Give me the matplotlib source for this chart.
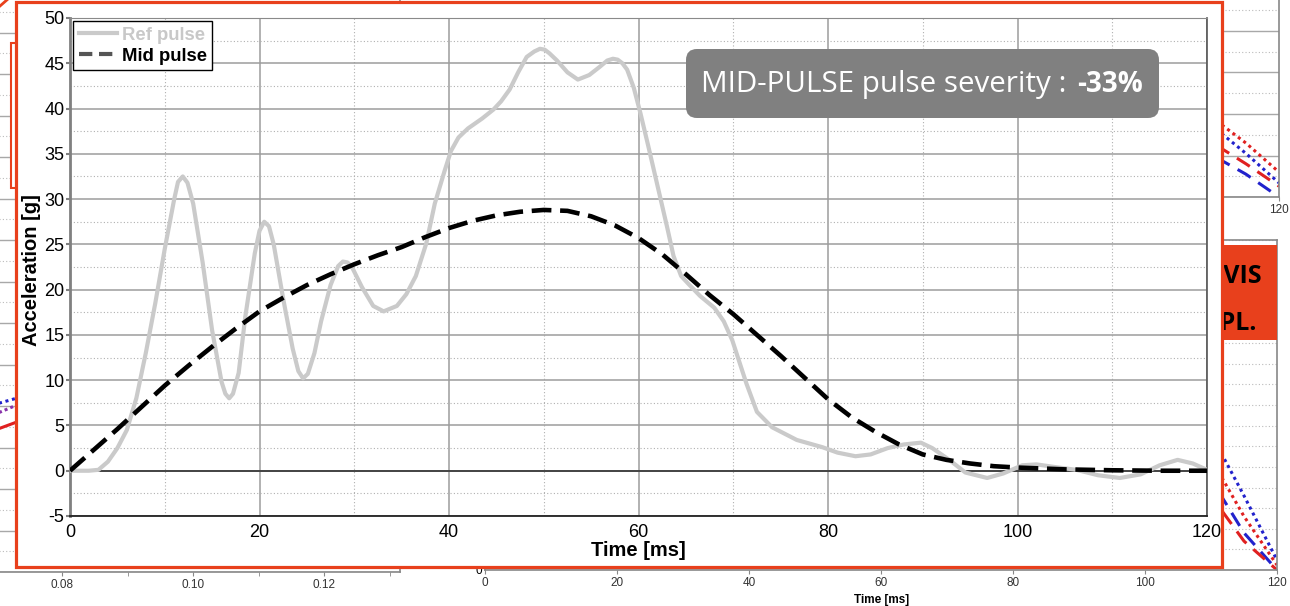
import matplotlib
matplotlib.use("Agg")
import matplotlib.pyplot as plt
from matplotlib.lines import Line2D
from matplotlib.patches import Rectangle, FancyBboxPatch
from matplotlib.ticker import MultipleLocator, FixedLocator

plt.rcParams["axes.unicode_minus"] = False

W, H, DPI = 1290, 606, 100

# ---------------- main chart data ----------------
ref_t = [0, 1, 2, 3, 4, 5, 6, 7, 8, 9, 10, 11, 11.4, 11.9, 12.4, 13, 14, 15, 16,
         16.4, 16.8, 17.2, 17.8, 18.5, 19.5, 20.0, 20.5, 21.0, 21.5, 22.5, 23.5,
         24.1, 24.6, 25.1, 25.8, 26.5, 27.5, 28.3, 28.8, 29.3, 29.8, 30.8, 32,
         33.1, 34.5, 35.5, 36.5, 37.6, 38.5, 39.5, 40.2, 41, 42, 43.5, 44.7, 45.5,
         46.4, 47.3, 48.2, 49.0, 49.6, 50.1, 50.6, 51.4, 52.5, 53.6, 54.8, 55.9,
         56.7, 57.3, 57.8, 58.3, 58.8, 59.5, 60.2, 61, 62, 63, 63.7, 64.5, 65.3,
         66.5, 68, 69, 69.9, 71.4, 72.5, 74.1, 76.7, 79.4, 81, 82.9, 84.5, 86.3,
         88, 89.8, 91, 92.8, 94.5, 96.8, 98.5, 100.5, 102, 104, 106.2, 108.5,
         110.8, 113, 115, 116.9, 118.5, 120]
ref_g = [0, 0, 0, 0.1, 1.0, 2.5, 4.5, 8.0, 13.0, 18.5, 24.5, 30.0, 31.9, 32.5,
         31.8, 29.5, 23.0, 15.5, 9.8, 8.5, 8.0, 8.5, 10.8, 17.0, 24.0, 26.5, 27.5,
         27.0, 25.0, 19.0, 13.5, 11.0, 10.2, 10.7, 13.0, 16.5, 20.5, 22.6, 23.1,
         23.0, 22.4, 20.3, 18.2, 17.6, 18.2, 19.5, 21.5, 25.1, 29.5, 33.0, 35.3,
         36.8, 37.8, 38.9, 39.9, 40.8, 42.1, 44.0, 45.7, 46.3, 46.6, 46.5, 46.1,
         45.3, 44.0, 43.2, 43.7, 44.6, 45.3, 45.5, 45.4, 45.0, 44.3, 42.3, 39.5,
         36.0, 31.5, 27.0, 23.7, 21.5, 20.6, 19.3, 18.0, 16.5, 14.4, 9.6, 6.5, 4.8,
         3.4, 2.6, 2.0, 1.6, 1.8, 2.5, 2.9, 3.1, 2.5, 1.2, -0.2, -0.8, -0.3, 0.6,
         0.7, 0.4, 0.1, -0.5, -0.8, -0.4, 0.6, 1.2, 0.8, 0.1]

mid_t = [0, 2.5, 5, 7.5, 10, 12.5, 15, 17.5, 20, 22.5, 25, 27.5, 30, 32.5, 35,
         37.5, 40, 42.5, 45, 47.5, 50, 52.5, 55, 57.5, 60, 62.5, 65, 67.5, 70,
         72.5, 75, 77.5, 80, 82.5, 85, 87.5, 90, 92.5, 95, 97.5, 100, 105, 110,
         115, 120]
mid_g = [0, 2.3, 4.6, 7.0, 9.4, 11.6, 13.7, 15.7, 17.6, 19.1, 20.5, 21.7, 22.8,
         23.8, 24.7, 25.8, 26.8, 27.6, 28.2, 28.6, 28.8, 28.7, 28.1, 27.1, 25.7,
         23.9, 21.7, 19.4, 17.3, 15.0, 12.7, 10.3, 7.9, 5.9, 4.3, 2.9, 1.8,
         1.2, 0.8, 0.5, 0.35, 0.15, 0.05, 0.0, 0.0]

series_names = ["Ref pulse", "Mid pulse"]
x_ticks = [0, 20, 40, 60, 80, 100, 120]
y_ticks = [-5, 0, 5, 10, 15, 20, 25, 30, 35, 40, 45, 50]

severity_label = "MID-PULSE pulse severity :"
severity_value = "-33%"

# ---------------- side charts (partly covered) ----------------
left_x = [0.060, 0.066, 0.072, 0.078]
left_blue_dot = [3.60, 3.87, 4.14, 4.41]
left_purple_dot = [3.15, 3.55, 3.95, 4.35]
left_red = [2.85, 3.20, 3.55, 3.90]
left_ticks = [0.08, 0.10, 0.12]

side_t = [100, 105, 110, 115, 120]
upper_red_dot = [24.0, 21.5, 19.0, 13.0, 6.0]
upper_blue_dot = [22.0, 19.5, 17.0, 10.5, 3.4]
upper_red_dash = [18.0, 15.5, 13.0, 8.0, 2.6]
upper_blue_dash = [15.0, 12.5, 10.0, 5.5, 0.0]

lower_blue_dot = [23.0, 20.5, 16.5, 9.0, 1.2]
lower_red_dot = [20.0, 17.5, 13.5, 6.5, 0.6]
lower_blue_dash = [17.0, 14.5, 11.0, 4.5, 0.0]
lower_red_dash = [14.0, 12.0, 9.0, 3.5, 0.0]
side_ticks = [0, 20, 40, 60, 80, 100, 120]

panel_title = ["PELVIS", "DISPL."]

RED = "#e8401c"
BLUE = "#2222cc"
SRED = "#e02020"

fig = plt.figure(figsize=(W / DPI, H / DPI), dpi=DPI)
fig.patch.set_facecolor("white")


def px_axes(x0, y0, x1, y1, z=0):
    a = fig.add_axes([x0 / W, 1 - y1 / H, (x1 - x0) / W, (y1 - y0) / H])
    a.set_zorder(z)
    return a


def overlay(z):
    a = px_axes(0, 0, W, H, z)
    a.set_xlim(0, W)
    a.set_ylim(H, 0)
    a.set_axis_off()
    a.patch.set_visible(False)
    return a


def style_side(a, major, minor):
    a.yaxis.set_major_locator(MultipleLocator(major))
    a.yaxis.set_minor_locator(MultipleLocator(minor))
    a.grid(True, which="major", axis="y", color="#a8a8a8", lw=1.0)
    a.grid(True, which="minor", axis="y", color="#bbbbbb", lw=0.8, ls=(0, (1, 2)))
    for s in a.spines.values():
        s.set_color("#888888")
        s.set_linewidth(1.2)
    a.tick_params(axis="y", left=False, labelleft=False)
    a.tick_params(axis="x", length=3, color="#888888", labelsize=8.5,
                  labelcolor="#333333", pad=2)


# left chart
axl = px_axes(-200, -10, 400, 572, 0)
axl.set_xlim(0.04, 0.04 + 600 * 0.02 / 131)
axl.set_ylim(0, 582 / 41.5)
style_side(axl, 1, 0.5)
axl.xaxis.set_major_locator(FixedLocator(left_ticks))
axl.xaxis.set_minor_locator(MultipleLocator(0.01))
axl.tick_params(axis="x", which="minor", length=3, color="#888888")
axl.set_xticklabels([f"{v:.2f}" for v in left_ticks])
axl.spines["left"].set_visible(False)
axl.plot(left_x, left_red, color=SRED, lw=2.2)
axl.plot(left_x, left_purple_dot, color="#8833aa", lw=2.2, ls=(0, (1, 1)))
axl.plot(left_x, left_blue_dot, color=BLUE, lw=2.2, ls=(0, (1, 1.2)))

# upper right chart
axu = px_axes(485, -10, 1279, 197, 0)
axu.set_xlim(0, 120)
axu.set_ylim(0, 207 / 4.15)
style_side(axu, 10, 5)
axu.set_xticks(side_ticks)
axu.spines["left"].set_visible(False)
axu.spines["top"].set_visible(False)
axu.plot(side_t, upper_red_dot, color=SRED, lw=2.2, ls=(0, (1, 1.2)))
axu.plot(side_t, upper_blue_dot, color=BLUE, lw=2.2, ls=(0, (1, 1.2)))
axu.plot(side_t, upper_red_dash, color=SRED, lw=2.2, ls=(0, (5, 3)))
axu.plot(side_t, upper_blue_dash, color=BLUE, lw=2.2, ls=(0, (5, 3)))

# lower right chart
axb = px_axes(485, 240, 1277, 570, 0)
axb.set_xlim(0, 120)
axb.set_ylim(0, 40)
style_side(axb, 5, 2.5)
axb.set_xticks(side_ticks)
axb.tick_params(axis="y", left=True, labelleft=True, labelsize=8.5, length=0, pad=2)
axb.yaxis.set_major_locator(FixedLocator([0]))
axb.set_xlabel("Time [ms]", fontsize=8.5, fontweight="bold", family="Liberation Sans")
axb.xaxis.set_label_coords((882 - 485) / 792, -(594 - 570) / 330)
axb.plot(side_t, lower_blue_dot, color=BLUE, lw=2.2, ls=(0, (1, 1.2)))
axb.plot(side_t, lower_red_dot, color=SRED, lw=2.2, ls=(0, (1, 1.2)))
axb.plot(side_t, lower_blue_dash, color=BLUE, lw=2.2, ls=(0, (5, 3)))
axb.plot(side_t, lower_red_dash, color=SRED, lw=2.2, ls=(0, (5, 3)))
for a in (axl, axu, axb):
    for lab in a.get_xticklabels() + a.get_yticklabels():
        lab.set_family("Liberation Sans")

# orange tag of the lower right chart (behind the panel)
tag = overlay(0.5)
tag.add_patch(Rectangle((1110, 245), 167, 95, facecolor=RED, edgecolor="none"))
tag.text(1262, 283, panel_title[0], ha="right", va="baseline", fontsize=18,
         fontweight="bold", family="Open Sans", color="black")
tag.text(1257, 330, panel_title[1], ha="right", va="baseline", fontsize=18,
         fontweight="bold", family="Open Sans", color="black")
tag.plot([0, 8], [6, -1], color=RED, lw=2)
tag.add_patch(Rectangle((10.5, 43), 10, 145, facecolor="white", edgecolor=RED, lw=1.5))

# white panel with red frame
deco = overlay(1)
deco.add_patch(Rectangle((16, 1.5), 1205.5, 565.5, facecolor="white", edgecolor=RED,
                         lw=2.3))

# ---------------- main chart ----------------
ax = px_axes(70, 18, 1207, 516, 2)
ax.set_xlim(0, 120)
ax.set_ylim(-5, 50)
ax.xaxis.set_major_locator(FixedLocator(x_ticks))
ax.xaxis.set_minor_locator(MultipleLocator(10))
ax.yaxis.set_major_locator(FixedLocator(y_ticks))
ax.yaxis.set_minor_locator(MultipleLocator(2.5))
ax.grid(True, which="major", color="#9c9c9c", lw=1.1)
ax.grid(True, which="minor", color="#b0b0b0", lw=0.8, ls=(0, (1, 2)))
ax.set_axisbelow(True)
ax.axhline(0, color="#444444", lw=1.4, zorder=1)

ax.plot(ref_t, ref_g, color="#cacaca", lw=3.0, solid_capstyle="round",
        solid_joinstyle="round", zorder=3)
ax.plot(mid_t, mid_g, color="black", lw=3.3, dashes=(4.3, 1.9), zorder=4)

ax.spines["left"].set_color("#808080")
ax.spines["left"].set_linewidth(2.0)
ax.spines["bottom"].set_color("#222222")
ax.spines["bottom"].set_linewidth(1.3)
ax.spines["top"].set_color("#8a8a8a")
ax.spines["right"].set_color("#555555")
ax.spines["right"].set_linewidth(1.2)

ax.tick_params(axis="x", which="both", length=0, pad=6, labelsize=13)
ax.tick_params(axis="y", which="major", length=3, color="#808080", width=1.5,
               pad=1, labelsize=13)
ax.tick_params(axis="y", which="minor", length=0)
for lab in ax.get_xticklabels() + ax.get_yticklabels():
    lab.set_family("Liberation Sans")

ax.set_xlabel("Time [ms]", fontsize=14.5, fontweight="bold", family="Liberation Sans",
              va="center")
ax.set_ylabel("Acceleration [g]", fontsize=14.5, fontweight="bold",
              family="Liberation Sans", va="center")
ax.xaxis.set_label_coords(0.5, -(551 - 516) / 498)
ax.yaxis.set_label_coords(-(70 - 32) / 1137, (516 - 270) / 498)

handles = [Line2D([], [], color="#cacaca", lw=3.0),
           Line2D([], [], color="#555555", lw=3.0, dashes=(3.2, 1.6))]
leg = ax.legend(handles, series_names, loc="upper left",
                bbox_to_anchor=(3 / 1137, 1 - 3 / 498), borderaxespad=0,
                fancybox=False, edgecolor="black", framealpha=1,
                prop={"family": "Liberation Sans", "weight": "bold", "size": 13.3},
                handlelength=2.1, handletextpad=0.25, labelspacing=0.22,
                borderpad=0.3)
leg.get_frame().set_linewidth(1.0)
leg.get_texts()[0].set_color("#c8c8c8")
leg.get_texts()[1].set_color("black")

# severity badge
top = overlay(5)
top.add_patch(FancyBboxPatch((686, 49), 473, 69,
                             boxstyle="round,pad=0,rounding_size=11",
                             facecolor="#808080", edgecolor="none"))
top.text(1066, 92, severity_label, ha="right", va="baseline", fontsize=21.3,
         family="Open Sans", color="white")
top.text(1077, 92, severity_value, ha="left", va="baseline", fontsize=20,
         family="Open Sans", fontweight="bold", color="white")

fig.savefig("out.png", dpi=DPI, facecolor="white")
